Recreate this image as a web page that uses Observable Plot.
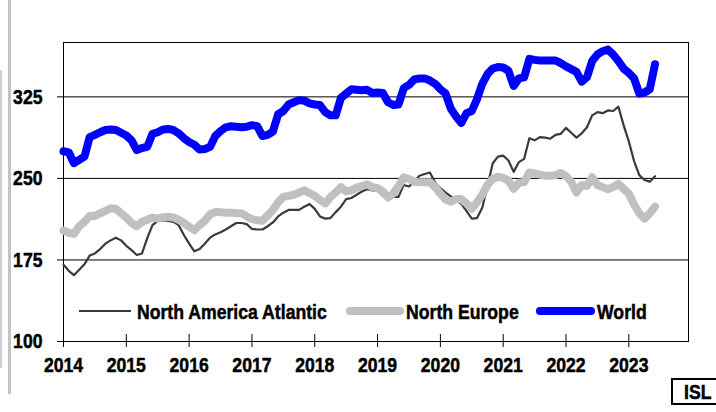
<!DOCTYPE html>
<html>
<head>
<meta charset="utf-8">
<script src="https://cdn.jsdelivr.net/npm/d3@7"></script>
<script src="https://cdn.jsdelivr.net/npm/@observablehq/plot@0.6"></script>
<style>
  html, body { margin: 0; padding: 0; background: #fff; }
  #wrap { position: relative; width: 716px; height: 412px; overflow: hidden; background: #fff;
          font-family: "Liberation Sans", Arial, Helvetica, sans-serif; }
  #chart { position: absolute; left: 0; top: 0; }
  .sidebar { position: absolute; left: 8px; top: 0; width: 3px; height: 394px; background: #c4c4c4; }
  .edge { position: absolute; left: 0; top: 70px; width: 2px; height: 298px; background: #d0d0d0; }
  .isl { position: absolute; left: 671px; top: 378px; width: 60px; height: 27px; border: 2px solid #000;
         box-sizing: border-box; font-weight: bold; font-size: 21px; line-height: 23px; padding-left: 11px;
         -webkit-text-stroke: 0.5px #000; }
  .isl span { display: inline-block; transform: scaleX(0.84); transform-origin: left center; }
</style>
</head>
<body>
<div id="wrap">
  <div class="edge"></div>
  <div class="sidebar"></div>
  <div id="chart"></div>
  <div class="isl"><span>ISL</span></div>
</div>
<script>
// Monthly series, Jan 2014 .. Jun 2023
const startYear = 2014;
const years = [2014, 2015, 2016, 2017, 2018, 2019, 2020, 2021, 2022, 2023];
const yTicks = [100, 175, 250, 325];
const gridValues = [175, 250, 325];
const seriesNames = ["North America Atlantic", "North Europe", "World"];

const northAmericaAtlantic = [
  170.5,165,161,166,171,179,181,185,190,193,195.5,193,
  188,184,179.5,181,195,207,211,211.5,211,210,207,198,
  190,183,185,190,195.5,198.5,200.5,203,206,209,209,208,
  203.5,203,203,206,209.5,215,218.5,221,221,221,224,226.5,
  222,215,213,213.5,219,224,231,232,235,238,240,239,
  239,234,230,233,233,244,242.5,247,252.5,254,255.5,246,
  241,237,233.5,230,226.5,220,213,213.5,223,243,264,270,
  271,266.5,256,265,268,287,285,288,287.5,286.5,290,291,
  296.5,292,287.5,291.5,297,308,311,310,312.5,312,316,299,
  284,266,253,248.5,247,252
];
const northEurope = [
  202,200,199,206,210,215.5,215.5,218,220,222.5,222,218,
  214,209,206,210,212,214,213,214.5,214.5,214,212,209,
  205.5,202.5,207,211,217,219,219,218.5,218.5,218,218,215,
  212.5,211.5,211,216,221,228,233,234,235,237,239,236.5,
  234,230,227,233,237,242,238,239,241.5,243,244.5,242,
  241,238,232.5,236,243,251,249.5,247,246.5,246.5,246.5,242,
  236,230.5,228.5,231,231,227,222,228,235,244,249.5,251.5,
  250.5,248,240.5,246,246.5,255.5,254.5,253.5,252.5,252.5,253,255,
  252,247,237,244,243,251,244,242,240,242,245,240.5,
  236,226,218,213,218,224
];
const world = [
  275,274,264,267,270,288,290,292.5,294.5,295,294.5,292,
  289.5,285,276,278,279,291,292.5,295,295.5,294.5,291.5,287,
  283.5,281,276.5,277,279,289,293.5,297,298,297.5,297,297.5,
  299,298,289,290,293,309,312,318,320,322,321.5,319,
  318,317.5,311,308,308,324,328,332,331.5,331,331.5,328.5,
  329,328.5,320,317.5,318,333,336,341,342,342,340,337,
  332,328,314,307,301,310,312,323,337,346,351,352.5,
  352,349,335,342,343,360,359,358.5,358.5,358.5,358.5,356,
  353,350.5,348,339,343,358,364,367,368.5,364,358,351,
  347,342,328,329,332,355
];

const toRows = arr => arr.map((v, i) => ({t: startYear + i / 12, v}));
const rowsNAA = toRows(northAmericaAtlantic);
const rowsNE = toRows(northEurope);
const rowsW = toRows(world);

const colors = {naa: "#3a3a3a", ne: "#c0c0c0", w: "#0000ff"};
const font = "'Liberation Sans', Arial, Helvetica, sans-serif";
const fontSize = 21;
const condense = 0.84;

const chart = Plot.plot({
  width: 716,
  height: 412,
  marginLeft: 63,
  marginRight: 28,
  marginTop: 42,
  marginBottom: 71,
  style: {fontFamily: font, fontSize: fontSize + "px", fontWeight: "bold", color: "#000", background: "transparent", overflow: "visible"},
  x: {type: "linear", domain: [2014, 2023.95]},
  y: {domain: [100, 375]},
  marks: [
    Plot.ruleY(gridValues, {stroke: "#000", strokeWidth: 1}),
    Plot.frame({stroke: "#000", strokeWidth: 1}),
    Plot.line(rowsNAA, {x: "t", y: "v", stroke: colors.naa, strokeWidth: 2.2, strokeLinejoin: "round"}),
    Plot.line(rowsNE, {x: "t", y: "v", stroke: colors.ne, strokeWidth: 8, strokeLinejoin: "round", strokeLinecap: "round"}),
    Plot.line(rowsW, {x: "t", y: "v", stroke: colors.w, strokeWidth: 8, strokeLinejoin: "round", strokeLinecap: "round"}),
    Plot.axisY({ticks: yTicks, tickSize: 6, tickPadding: 15, label: null, tickFormat: d => String(d), stroke: "#000"}),
    Plot.axisX({ticks: years, tickSize: 13, dy: -7, tickPadding: 10, label: null, tickFormat: d => String(d), stroke: "#000"})
  ]
});
document.getElementById("chart").appendChild(chart);

// Legend inside plot area
const svg = d3.select(chart);
const legendY = 311;
const legend = [
  {name: seriesNames[0], color: colors.naa, w: 2.2, x1: 79, x2: 131, tx: 137},
  {name: seriesNames[1], color: colors.ne, w: 8, x1: 350, x2: 400, tx: 406},
  {name: seriesNames[2], color: colors.w, w: 8, x1: 540, x2: 591, tx: 597}
];
const g = svg.append("g").attr("text-anchor", "start");
legend.forEach(d => {
  g.append("line").attr("x1", d.x1).attr("x2", d.x2).attr("y1", legendY).attr("y2", legendY)
    .attr("stroke", d.color).attr("stroke-width", d.w).attr("stroke-linecap", d.w > 3 ? "round" : "butt");
  g.append("text").attr("x", d.tx).attr("y", legendY).attr("dy", "0.36em")
    .attr("text-anchor", "start")
    .attr("font-family", font).attr("font-size", fontSize).attr("font-weight", "bold").attr("fill", "#000")
    .text(d.name);
});

// Condense and darken all text (the original uses a heavy narrow bold face)
svg.selectAll("text").each(function() {
  const len = this.getComputedTextLength();
  if (len > 0) {
    this.setAttribute("textLength", (len * condense).toFixed(1));
    this.setAttribute("lengthAdjust", "spacingAndGlyphs");
  }
  this.setAttribute("stroke", "#000");
  this.setAttribute("stroke-width", "0.5");
  this.setAttribute("fill", "#000");
});
</script>
</body>
</html>
